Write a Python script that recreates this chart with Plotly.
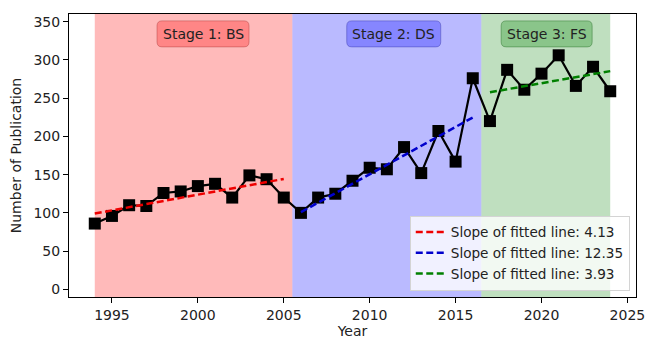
import numpy as np
import plotly.graph_objects as go

# ---- data ----
years = list(range(1994, 2025))
publications = [86, 96, 110, 109, 126, 128, 135, 138, 120, 149, 144, 120,
                100, 120, 125, 142, 159, 157, 186, 152, 207, 167, 276,
                220, 287, 261, 282, 306, 266, 291, 259]

stage_names = ["Stage 1: BS", "Stage 2: DS", "Stage 3: FS"]
stage_first_year = [1994, 2006, 2017]
stage_last_year = [2005, 2016, 2024]
stage_span_start = [1994, 2005.5, 2016.5]
stage_span_end = [2005.5, 2016.5, 2024]
stage_label_x = [2000.3, 2011.4, 2020.3]
stage_label_y = [334, 334, 334]
slopes = [4.13, 12.35, 3.93]

span_colors = ["rgba(255,0,0,0.27)", "rgba(0,0,255,0.27)", "rgba(0,128,0,0.25)"]
box_colors = ["rgba(255,0,0,0.28)", "rgba(0,0,255,0.28)", "rgba(0,128,0,0.28)"]
box_borders = ["rgba(170,60,60,0.45)", "rgba(60,60,170,0.45)", "rgba(40,110,40,0.45)"]
box_widths = [92, 94, 91]
fit_colors = ["#ee0000", "#0000cc", "#008000"]

FONT = "DejaVu Sans"
FS = 14


def rounded_box(w, h, r):
    a, b = w / 2, h / 2
    return (f"M {-a + r},{-b} L {a - r},{-b} Q {a},{-b} {a},{-b + r} "
            f"L {a},{b - r} Q {a},{b} {a - r},{b} L {-a + r},{b} Q {-a},{b} {-a},{b - r} "
            f"L {-a},{-b + r} Q {-a},{-b} {-a + r},{-b} Z")


fig = go.Figure()

# stage spans
for s0, s1, c in zip(stage_span_start, stage_span_end, span_colors):
    fig.add_shape(type="rect", xref="x", yref="paper", x0=s0, x1=s1, y0=0, y1=1,
                  fillcolor=c, line=dict(width=0), layer="below")

# main series
fig.add_trace(go.Scatter(x=years, y=publications, mode="lines+markers",
                         line=dict(color="black", width=2.2),
                         marker=dict(symbol="square", size=12, color="black"),
                         showlegend=False))

# fitted lines per stage
yr = np.array(years)
pub = np.array(publications, dtype=float)
for a, b, c, s in zip(stage_first_year, stage_last_year, fit_colors, slopes):
    m = (yr >= a) & (yr <= b)
    k, q = np.polyfit(yr[m], pub[m], 1)
    fx = yr[m]
    fig.add_trace(go.Scatter(x=fx, y=k * fx + q, mode="lines",
                             line=dict(color=c, width=2.5, dash="7px,3.5px"),
                             name=f"Slope of fitted line: {s}"))

# stage labels with rounded boxes
for name, lx, ly, bc, bd, bw in zip(stage_names, stage_label_x, stage_label_y,
                                    box_colors, box_borders, box_widths):
    fig.add_shape(type="path", xref="x", yref="y", xsizemode="pixel", ysizemode="pixel",
                  xanchor=lx, yanchor=ly, path=rounded_box(bw, 26, 5),
                  fillcolor=bc, line=dict(color=bd, width=1), layer="above")
    fig.add_annotation(x=lx, y=ly, xref="x", yref="y", text=name, showarrow=False,
                       font=dict(family=FONT, size=FS, color="#222"))

axis_common = dict(showline=True, linecolor="black", linewidth=1, mirror=True,
                   ticks="outside", ticklen=5, tickcolor="black", showgrid=False,
                   zeroline=False, automargin=False, ticklabeloverflow="allow",
                   tickfont=dict(family=FONT, size=FS, color="#222"))

fig.update_xaxes(range=[1992.5, 2025.5], tickvals=[1995, 2000, 2005, 2010, 2015, 2020, 2025],
                 title=dict(text="Year", font=dict(family=FONT, size=FS, color="#222"), standoff=4),
                 **axis_common)
fig.update_yaxes(range=[-10, 360], tickvals=[0, 50, 100, 150, 200, 250, 300, 350],
                 title=dict(text="Number of Publication", font=dict(family=FONT, size=FS, color="#222"), standoff=8),
                 **axis_common)

fig.update_layout(
    width=645, height=339,
    margin=dict(l=69, r=9, t=14, b=42),
    plot_bgcolor="white", paper_bgcolor="white",
    font=dict(family=FONT, size=FS, color="#222"),
    legend=dict(x=0.989, y=0.022, xanchor="right", yanchor="bottom",
                bgcolor="rgba(255,255,255,0.8)", bordercolor="#d4d4d4", borderwidth=1,
                font=dict(family=FONT, size=13.6, color="#222"), itemwidth=30,
                tracegroupgap=0),
)

fig.write_html("out.html", config={"displayModeBar": False},
               post_script="document.body.style.margin='0px';document.body.style.overflow='hidden';")
